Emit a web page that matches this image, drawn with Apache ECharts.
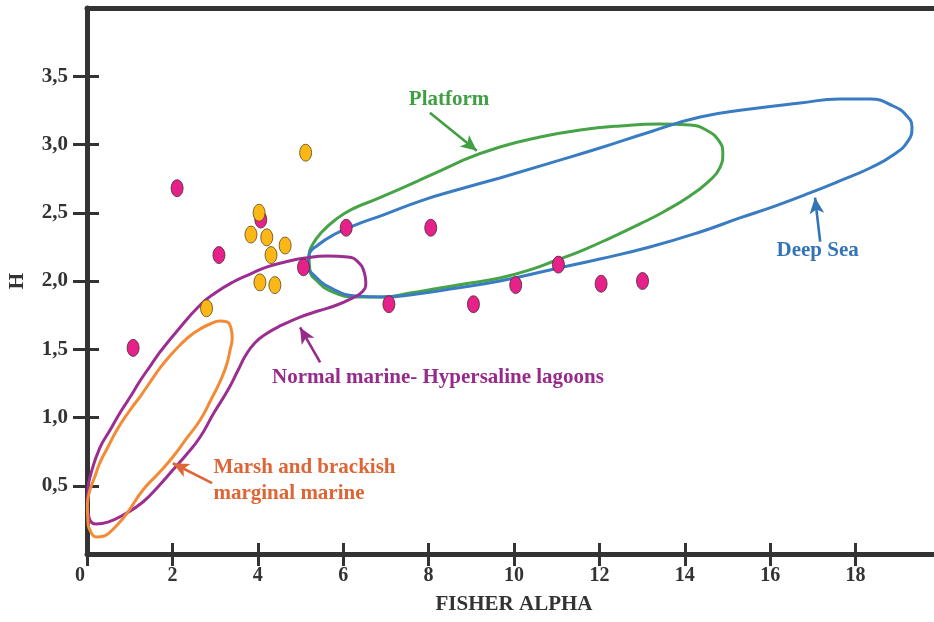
<!DOCTYPE html>
<html><head><meta charset="utf-8">
<script src="https://cdn.jsdelivr.net/npm/echarts@6/dist/echarts.min.js"></script>
<style>html,body{margin:0;padding:0;background:#fff}#c{width:934px;height:622px}</style>
</head><body><div id="c"></div>
<script>
// ---- data ----
const xTickValues = [0, 2, 4, 6, 8, 10, 12, 14, 16, 18];
const yTickLabels = ['0,5', '1,0', '1,5', '2,0', '2,5', '3,0', '3,5'];

const magentaSamples = [
  [1.08, 1.51], [2.11, 2.68], [3.09, 2.19], [4.07, 2.45], [5.07, 2.10],
  [6.07, 2.39], [7.07, 1.83], [8.05, 2.39], [9.05, 1.83], [10.04, 1.97],
  [11.04, 2.12], [12.04, 1.98], [13.01, 2.00]
];
const yellowSamples = [
  [5.12, 2.94], [4.03, 2.50], [3.84, 2.34], [4.21, 2.32], [4.64, 2.26],
  [4.31, 2.19], [4.05, 1.99], [4.40, 1.97], [2.80, 1.80]
];

const deepSeaOutline = [
  [9.67, 2.755], [10.84, 2.864], [12.01, 2.974], [13.18, 3.092], [14.36, 3.201],
  [15.53, 3.260], [16.70, 3.304], [17.63, 3.333], [18.34, 3.333], [18.88, 3.282],
  [19.20, 3.209], [19.32, 3.128], [19.23, 3.026], [18.88, 2.923], [18.34, 2.828],
  [17.63, 2.733], [16.93, 2.645], [16.11, 2.549], [15.29, 2.462], [14.36, 2.359],
  [13.18, 2.249], [12.01, 2.161], [10.84, 2.081], [9.67, 2.000], [8.50, 1.941],
  [7.73, 1.905], [6.93, 1.883], [6.28, 1.890], [5.76, 1.941], [5.36, 2.029],
  [5.18, 2.117], [5.20, 2.190], [5.41, 2.264], [5.81, 2.344], [6.28, 2.410],
  [6.93, 2.483], [7.87, 2.593], [8.74, 2.674], [9.67, 2.755]
];
const platformOutline = [
  [8.81, 2.886], [9.67, 2.982], [10.61, 3.055], [11.55, 3.106], [12.48, 3.136],
  [13.42, 3.150], [14.12, 3.143], [14.54, 3.099], [14.80, 3.026], [14.89, 2.938],
  [14.82, 2.828], [14.54, 2.725], [14.12, 2.623], [13.54, 2.513], [12.95, 2.418],
  [12.30, 2.322], [11.62, 2.227], [11.01, 2.154], [10.37, 2.081], [9.67, 2.022],
  [8.97, 1.985], [8.27, 1.949], [7.56, 1.912], [6.93, 1.883], [6.28, 1.883],
  [5.76, 1.919], [5.41, 1.993], [5.22, 2.081], [5.20, 2.190], [5.29, 2.271],
  [5.50, 2.359], [5.81, 2.447], [6.21, 2.527], [6.79, 2.601], [7.80, 2.740],
  [8.81, 2.886]
];
const lagoonOutline = [
  [1.71, 1.480], [2.11, 1.634], [2.65, 1.824], [3.00, 1.912], [3.42, 1.993],
  [3.82, 2.051], [4.22, 2.103], [4.64, 2.139], [5.11, 2.168], [5.62, 2.183],
  [6.11, 2.176], [6.35, 2.139], [6.49, 2.066], [6.53, 1.985], [6.44, 1.919],
  [6.21, 1.875], [5.85, 1.824], [5.41, 1.780], [4.99, 1.736], [4.57, 1.678],
  [4.19, 1.612], [3.93, 1.546], [3.72, 1.458], [3.54, 1.348], [3.30, 1.201],
  [2.97, 1.033], [2.65, 0.857], [2.34, 0.733], [2.01, 0.615], [1.66, 0.491],
  [1.31, 0.381], [0.89, 0.293], [0.49, 0.234], [0.21, 0.220], [0.05, 0.264],
  [0.01, 0.359], [0.02, 0.469], [0.09, 0.586], [0.30, 0.777], [0.54, 0.908],
  [0.77, 1.033], [1.01, 1.150], [1.24, 1.267], [1.48, 1.377], [1.71, 1.480]
];
const marshOutline = [
  [1.24, 1.150], [1.48, 1.260], [1.71, 1.363], [1.94, 1.451], [2.18, 1.531],
  [2.41, 1.597], [2.65, 1.648], [2.88, 1.685], [3.11, 1.707], [3.28, 1.700],
  [3.37, 1.656], [3.40, 1.582], [3.35, 1.494], [3.26, 1.377], [3.11, 1.260],
  [2.90, 1.128], [2.65, 0.982], [2.34, 0.850], [2.01, 0.711], [1.66, 0.586],
  [1.31, 0.469], [0.94, 0.300], [0.73, 0.220], [0.54, 0.161], [0.40, 0.132],
  [0.23, 0.125], [0.09, 0.161], [0.02, 0.249], [0.01, 0.359], [0.07, 0.469],
  [0.19, 0.571], [0.30, 0.667], [0.49, 0.784], [0.70, 0.908], [0.96, 1.033],
  [1.24, 1.150]
];

// annotation text anchors and arrows (data coordinates)
const labelTexts = ['Platform', 'Deep Sea', 'Normal marine- Hypersaline lagoons', 'Marsh and brackish\nmarginal marine'];
const labelAnchors = [[8.48, 3.33], [17.11, 2.22], [8.22, 1.29], [2.95, 0.54]];
const arrowStarts = [[8.03, 3.232], [17.17, 2.289], [5.46, 1.404], [2.93, 0.519]];
const arrowEnds = [[9.13, 2.954], [17.05, 2.611], [4.99, 1.660], [2.01, 0.665]];

// ---- chart ----
const FONT = '"Liberation Serif", "Times New Roman", serif';
const AX = '#333333';
const lineCols = ['#46a447', '#3a7cc1', '#9b2e90', '#f28a36'];
const textCols = ['#3f9f42', '#3374b6', '#962b8c', '#de6535'];
const outlines = [platformOutline, deepSeaOutline, lagoonOutline, marshOutline];
const names = ['Platform', 'Deep Sea', 'Normal marine- Hypersaline lagoons', 'Marsh and brackish marginal marine'];

const chart = echarts.init(document.getElementById('c'));

const axisCommonX = { type: 'value', min: 0, max: 20, interval: 2 };
const axisCommonY = { type: 'value', min: 0, max: 4, interval: 0.5 };

const series = [];
outlines.forEach((d, i) => {
  series.push({
    type: 'line', name: names[i], data: d, smooth: 0.5, showSymbol: false,
    symbol: 'none', z: 2,
    lineStyle: { color: lineCols[i], width: 3 },
    markLine: {
      silent: true, symbol: ['none', 'arrow'], symbolSize: [11, 16],
      lineStyle: { color: textCols[i], width: 2.6, type: 'solid', opacity: 1 },
      label: { show: false },
      data: [[{ coord: arrowStarts[i] }, { coord: arrowEnds[i] }]]
    }
  });
});
series.push({
  type: 'scatter', data: magentaSamples, symbol: 'circle', symbolSize: [12, 17], z: 5,
  itemStyle: { color: '#e6218a', borderColor: '#4a2a35', borderWidth: 0.8, opacity: 1 }
});
series.push({
  type: 'scatter', data: yellowSamples, symbol: 'circle', symbolSize: [12, 17], z: 6,
  itemStyle: { color: '#fbb715', borderColor: '#5a4a20', borderWidth: 0.8, opacity: 1 }
});
series.push({
  type: 'scatter', symbol: 'circle', symbolSize: 1, z: 7, silent: true,
  itemStyle: { color: 'rgba(0,0,0,0)', opacity: 1 },
  data: labelTexts.map((t, i) => ({
    value: labelAnchors[i],
    label: {
      show: true, formatter: t, position: i === 3 ? 'right' : 'inside', distance: 0,
      align: i === 3 ? 'left' : 'center', verticalAlign: 'middle', opacity: 1,
      color: textCols[i], fontFamily: FONT, fontWeight: 'bold', fontSize: 21, lineHeight: 26
    }
  }))
});

chart.setOption({
  animation: false,
  backgroundColor: '#ffffff',
  grid: { left: 87, top: 8, width: 854, height: 546, containLabel: false, outerBoundsMode: 'none' },
  xAxis: [
    Object.assign({}, axisCommonX, {
      position: 'bottom',
      name: 'FISHER ALPHA', nameLocation: 'middle', nameGap: 40,
      nameTextStyle: { color: AX, fontFamily: FONT, fontWeight: 'bold', fontSize: 21 },
      axisLine: { show: true, lineStyle: { color: AX, width: 5 } },
      axisTick: { show: true, inside: false, length: 12, lineStyle: { color: AX, width: 3 } },
      axisLabel: {
        show: true, margin: 12, color: AX, fontFamily: FONT, fontWeight: 'bold', fontSize: 20,
        showMaxLabel: false,
        formatter: v => {
          const idx = xTickValues.indexOf(v);
          if (idx < 0) return '';
          return idx === 0 ? '{z|' + xTickValues[idx] + '}' : String(xTickValues[idx]);
        },
        rich: { z: { padding: [0, 14, 0, 0], color: AX, fontFamily: FONT, fontWeight: 'bold', fontSize: 20 } }
      },
      splitLine: { show: false }
    }),
    Object.assign({}, axisCommonX, {
      position: 'bottom',
      axisLine: { show: false },
      axisTick: { show: true, inside: true, length: 11, lineStyle: { color: AX, width: 3 } },
      axisLabel: { show: false }, splitLine: { show: false }
    }),
    Object.assign({}, axisCommonX, {
      position: 'top',
      axisLine: { show: true, lineStyle: { color: AX, width: 5 } },
      axisTick: { show: false }, axisLabel: { show: false }, splitLine: { show: false }
    })
  ],
  yAxis: [
    Object.assign({}, axisCommonY, {
      position: 'left',
      name: 'H', nameLocation: 'middle', nameGap: 59, nameRotate: 90,
      nameTextStyle: { color: AX, fontFamily: FONT, fontWeight: 'bold', fontSize: 21 },
      axisLine: { show: true, lineStyle: { color: AX, width: 5 } },
      axisTick: { show: true, inside: false, length: 14, lineStyle: { color: AX, width: 3 } },
      axisLabel: {
        show: true, margin: 19, color: AX, fontFamily: FONT, fontWeight: 'bold', fontSize: 21,
        showMinLabel: false, showMaxLabel: false,
        formatter: v => {
          const idx = Math.round(v / 0.5) - 1;
          return (idx >= 0 && idx < yTickLabels.length) ? yTickLabels[idx] : '';
        }
      },
      splitLine: { show: false }
    }),
    Object.assign({}, axisCommonY, {
      position: 'left',
      axisLine: { show: false },
      axisTick: { show: true, inside: true, length: 12, lineStyle: { color: AX, width: 3 } },
      axisLabel: { show: false }, splitLine: { show: false }
    })
  ],
  series: series
});
</script>
</body></html>
